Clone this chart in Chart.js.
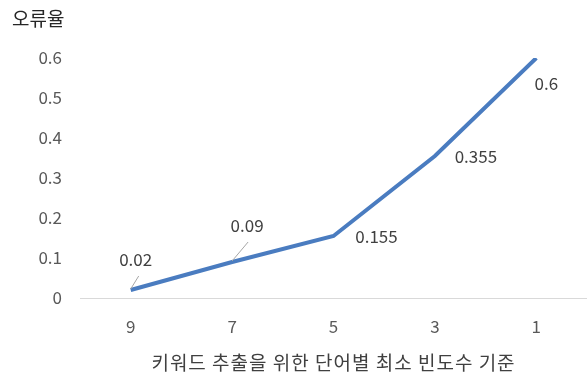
<!DOCTYPE html>
<html>
<head>
<meta charset="utf-8">
<script src="https://cdn.jsdelivr.net/npm/chart.js@4"></script>
<style>
  html, body { margin: 0; padding: 0; background: #fff; }
  #wrap { width: 587px; height: 380px; }
</style>
</head>
<body>
<div id="wrap"><canvas id="chart" width="587" height="380"></canvas></div>
<script>
// Chart values
const categories = ['9', '7', '5', '3', '1'];
const errorRates = [0.02, 0.09, 0.155, 0.355, 0.6];
const valueLabels = ['0.02', '0.09', '0.155', '0.355', '0.6'];
const yTitle = '오류율';
const xTitle = '키워드 추출을 위한 단어별 최소 빈도수 기준';

const FONT = '"Noto Sans CJK KR", "Noto Sans", sans-serif';

// Draw the data labels (Excel style, some with leader lines) and both titles.
const labelPlugin = {
  id: 'labelPlugin',
  afterDatasetsDraw(chart, args, opts) {
    const ctx = chart.ctx;
    const meta = chart.getDatasetMeta(0);
    ctx.save();
    ctx.font = '17px ' + FONT;
    ctx.fillStyle = '#404040';
    ctx.textAlign = 'center';
    ctx.textBaseline = 'middle';
    meta.data.forEach((pt, i) => {
      const off = opts.offsets[i];
      if (off[2]) {
        ctx.strokeStyle = '#a6a6a6';
        ctx.lineWidth = 1;
        ctx.beginPath();
        ctx.moveTo(pt.x, pt.y - 1);
        ctx.lineTo(pt.x + off[2][0], pt.y + off[2][1]);
        ctx.stroke();
      }
      ctx.fillText(valueLabels[i], pt.x + off[0], pt.y + off[1]);
    });
    // y axis title at top-left
    ctx.font = '19px ' + FONT;
    ctx.fillStyle = '#262626';
    ctx.textAlign = 'left';
    ctx.fillText(yTitle, 12, 19);
    // x axis title centred under the plot
    ctx.letterSpacing = '1px';
    ctx.textAlign = 'center';
    ctx.fillStyle = '#404040';
    ctx.fillText(xTitle, (chart.chartArea.left + chart.chartArea.right) / 2, 363);
    ctx.restore();
  }
};

const chart = new Chart('chart', {
  type: 'line',
  data: {
    labels: categories,
    datasets: [{
      data: errorRates,
      borderColor: '#4a7cc0',
      borderWidth: 4,
      pointRadius: 0,
      tension: 0,
      fill: false
    }]
  },
  options: {
    responsive: false,
    animation: false,
    devicePixelRatio: 1,
    layout: { padding: { top: 58, left: 0, right: 0, bottom: 0 } },
    plugins: {
      legend: { display: false },
      tooltip: { enabled: false },
      labelPlugin: {
        offsets: [
          [5, -30, [8, -14]],
          [15, -36, [16, -20]],
          [43, 1, null],
          [41, 1, null],
          [10, 26, null]
        ]
      }
    },
    scales: {
      x: {
        offset: true,
        grid: { display: false, drawTicks: false },
        border: { display: true, color: '#d9d9d9', width: 1 },
        ticks: { color: '#595959', font: { family: FONT, size: 17 }, padding: 18 },
        afterFit(scale) { scale.height = 82; }
      },
      y: {
        min: 0,
        max: 0.6,
        grid: { display: false, drawTicks: false },
        border: { display: false },
        ticks: {
          stepSize: 0.1,
          color: '#595959',
          font: { family: FONT, size: 17 },
          padding: 18,
          callback: v => String(Math.round(v * 10) / 10)
        },
        afterFit(scale) { scale.width = 80; }
      }
    }
  },
  plugins: [labelPlugin]
});
</script>
</body>
</html>
